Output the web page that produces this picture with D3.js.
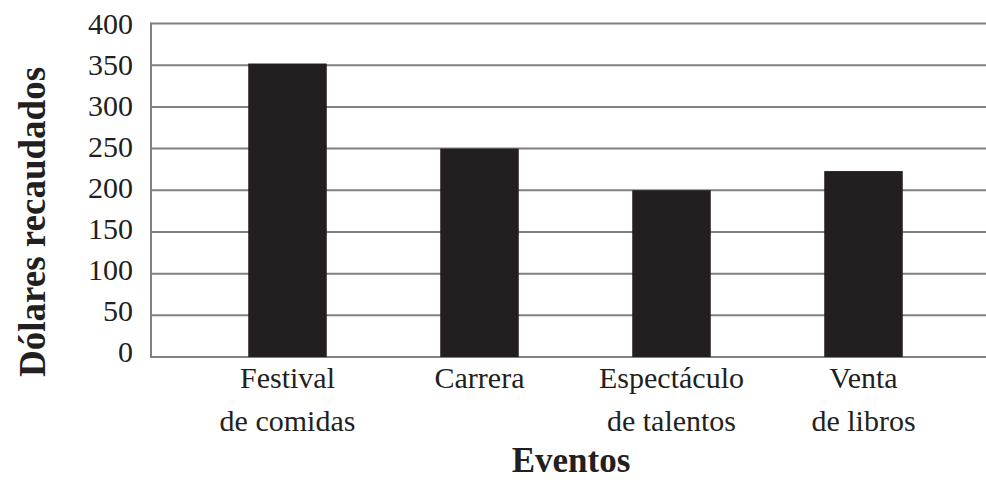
<!DOCTYPE html>
<html>
<head>
<meta charset="utf-8">
<script src="https://cdn.jsdelivr.net/npm/d3@7"></script>
<style>
  body { margin: 0; background: #fff; }
  svg { display: block; font-family: "Liberation Serif", "Times New Roman", serif; }
</style>
</head>
<body>
<svg id="chart" width="986" height="480"></svg>
<script>
// ── Data ──────────────────────────────────────────────────────────────────
const events = ["Festival|de comidas", "Carrera", "Espectáculo|de talentos", "Venta|de libros"];
const dollars = [352, 250, 200, 223];
const yTicks = [0, 50, 100, 150, 200, 250, 300, 350, 400];

// ── Layout ────────────────────────────────────────────────────────────────
const plot = { left: 151, right: 986, top: 23.5, bottom: 357 };

const svg = d3.select("#chart");

const y = d3.scaleLinear().domain([0, 400]).range([plot.bottom, plot.top]);
const x = d3.scaleBand()
  .domain(events)
  .range([191.5, 959.5])
  .paddingInner(0.591)
  .paddingOuter(0.2955);

// gridlines
svg.append("g")
  .selectAll("line")
  .data(yTicks)
  .join("line")
  .attr("x1", plot.left)
  .attr("x2", plot.right)
  .attr("y1", (d) => y(d))
  .attr("y2", (d) => y(d))
  .attr("stroke", "#808080")
  .attr("stroke-width", 2);

// left axis line
svg.append("line")
  .attr("x1", plot.left).attr("x2", plot.left)
  .attr("y1", y(400) - 1).attr("y2", y(0) + 1)
  .attr("stroke", "#808080")
  .attr("stroke-width", 2);

// bars
svg.append("g")
  .selectAll("rect")
  .data(events.map((e, i) => ({ e, v: dollars[i] })))
  .join("rect")
  .attr("x", (d) => x(d.e))
  .attr("width", x.bandwidth())
  .attr("y", (d) => y(d.v))
  .attr("height", (d) => y(0) - y(d.v))
  .attr("fill", "#231f20");

// y tick labels (sit a touch above the lower gridlines, like the original)
svg.append("g")
  .selectAll("text")
  .data(yTicks)
  .join("text")
  .attr("x", 133)
  .attr("y", (d) => y(d) - (400 - d) * 0.013)
  .attr("dy", "0.34em")
  .attr("text-anchor", "end")
  .attr("font-size", 30)
  .attr("fill", "#231f20")
  .text((d) => d);

// category labels
const cat = svg.append("g")
  .selectAll("text")
  .data(events)
  .join("text")
  .attr("text-anchor", "middle")
  .attr("font-size", 30)
  .attr("fill", "#231f20");
cat.each(function (d) {
  const lines = d.split("|");
  d3.select(this).selectAll("tspan")
    .data(lines)
    .join("tspan")
    .attr("x", x(d) + x.bandwidth() / 2)
    .attr("y", (l, i) => 388 + i * 43)
    .text((l) => l);
});

// axis titles
svg.append("text")
  .attr("x", 571)
  .attr("y", 472)
  .attr("text-anchor", "middle")
  .attr("font-size", 35)
  .attr("font-weight", "bold")
  .attr("fill", "#231f20")
  .text("Eventos");

svg.append("text")
  .attr("transform", "translate(45,222) rotate(-90)")
  .attr("text-anchor", "middle")
  .attr("font-size", 37)
  .attr("font-weight", "bold")
  .attr("fill", "#231f20")
  .text("Dólares recaudados");
</script>
</body>
</html>
